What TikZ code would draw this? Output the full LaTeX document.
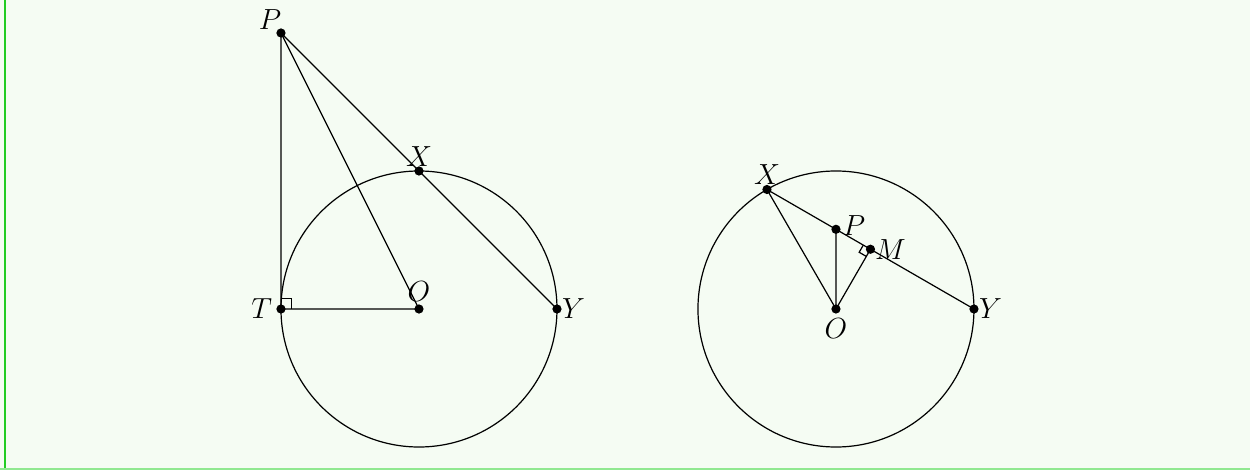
\documentclass[tikz,border=0pt]{standalone}
\usetikzlibrary{calc}
\definecolor{bgc}{HTML}{F5FCF3}
\definecolor{lborder}{HTML}{22CC22}
\definecolor{bborder}{HTML}{90E890}
\begin{document}
\begin{tikzpicture}[
  line width=0.5pt,
  pt/.style={circle,fill=black,inner sep=0pt,minimum size=3.8pt},
  lbl/.style={inner sep=1pt,font=\large}
]
% background and frame
\fill[bgc] (-6.072,-2.333) rectangle (12.043,4.478);
\useasboundingbox (-6.072,-2.333) rectangle (12.043,4.478);
\draw[lborder,line width=1.2pt] (-6.0,4.478) -- (-6.0,-2.333);
\draw[bborder,line width=0.8pt] (-6.072,-2.318) -- (12.043,-2.318);

% ---- left figure ----
\draw (0,0) circle (2);
\node[pt] (O) at (0,0) {};
\node[pt] (T) at (-2,0) {};
\node[pt] (P) at (-2,4) {};
\node[pt] (X) at (0,2) {};
\node[pt] (Y) at (2,0) {};
\draw (P.center) -- (T.center) -- (O.center) -- (P.center);
\draw (P.center) -- (X.center) -- (Y.center);
\draw ($(T.center)+(0,0.15)$) -- ++(0.15,0) -- ++(0,-0.15);
\node[lbl] at ($(P)+(-0.16,0.2)$) {$P$};
\node[lbl] at ($(X)+(0,0.21)$) {$X$};
\node[lbl] at ($(O)+(0,0.26)$) {$O$};
\node[lbl] at ($(T)+(-0.28,0)$) {$T$};
\node[lbl] at ($(Y)+(0.24,0)$) {$Y$};

% ---- right figure ----
\begin{scope}[xshift=6.043cm]
\draw (0,0) circle (2);
\node[pt] (O2) at (0,0) {};
\node[pt] (X2) at (-1,1.732) {};
\node[pt] (Y2) at (2,0) {};
\node[pt] (M2) at (0.5,0.866) {};
\node[pt] (P2) at (0,1.155) {};
\end{scope}
\draw (X2.center) -- (Y2.center);
\draw (X2.center) -- (O2.center) -- (P2.center);
\draw (O2.center) -- (M2.center);
\draw ($(M2.center)!0.12cm!(O2.center)$) -- ($($(M2.center)!0.12cm!(O2.center)$)+($(M2.center)!0.12cm!(X2.center)$)-(M2.center)$) -- ($(M2.center)!0.12cm!(X2.center)$);
\node[lbl] at ($(X2)+(0,0.22)$) {$X$};
\node[lbl] at ($(P2)+(0.26,0.05)$) {$P$};
\node[lbl] at ($(M2)+(0.29,0)$) {$M$};
\node[lbl] at ($(O2)+(0,-0.29)$) {$O$};
\node[lbl] at ($(Y2)+(0.24,0)$) {$Y$};
\end{tikzpicture}
\end{document}
